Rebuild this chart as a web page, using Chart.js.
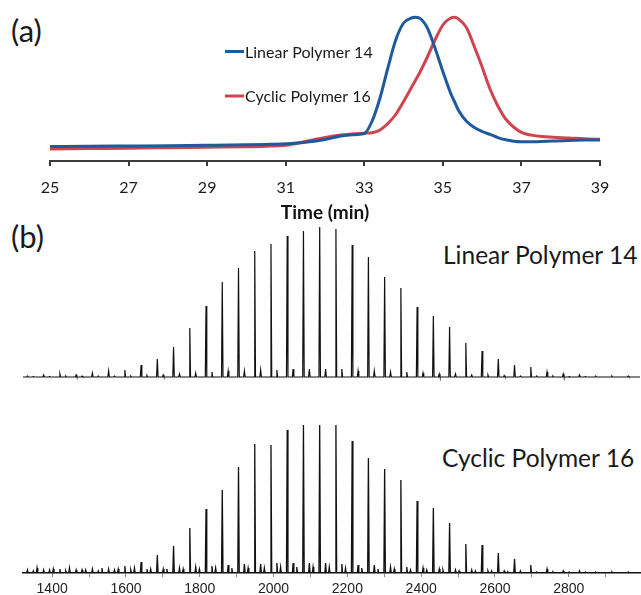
<!DOCTYPE html>
<html>
<head>
<meta charset="utf-8">
<script src="https://cdn.jsdelivr.net/npm/chart.js@4.4.1/dist/chart.umd.min.js"></script>
<style>
  body { margin: 0; background: #fff; width: 641px; height: 595px; overflow: hidden; position: relative; font-family: Lato, sans-serif; }
  canvas { position: absolute; left: 0; }
  .lbl { position: absolute; color: #1a1a1a; line-height: 1; white-space: nowrap; }
</style>
</head>
<body>
<div class="lbl" style="left:11px; top:15px; font-size:31px;">(a)</div>
<div class="lbl" style="left:11px; top:221px; font-size:31px;">(b)</div>
<div class="lbl" style="left:443px; top:243px; font-size:24.5px;">Linear Polymer 14</div>
<div class="lbl" style="left:442px; top:446px; font-size:24.5px;">Cyclic Polymer 16</div>

<canvas id="gpcChart" width="641" height="230" style="top:0"></canvas>
<canvas id="linearMs" width="641" height="166" style="top:215px"></canvas>
<canvas id="cyclicMs" width="641" height="200" style="top:395px"></canvas>

<script>
// (a) GPC traces
var gpcTime = [25, 26, 27, 28, 29, 30, 30.5, 31, 31.5, 32, 32.4, 32.7, 33, 33.2, 33.4, 33.6, 33.8, 34, 34.2, 34.3,
  34.4, 34.6, 34.8, 35, 35.2, 35.3, 35.4, 35.6, 35.8, 36, 36.2, 36.4, 36.6, 36.8, 37, 37.4, 37.8, 38.2, 38.6, 39];
var linearGpc = [14.5, 14.7, 15, 15.3, 15.7, 16.2, 16.6, 17.3, 18.8, 21.5, 25, 26.3, 27.5, 40, 63, 93, 121, 138, 143, 143.7,
  143, 133.5, 113, 89.5, 67.5, 59, 50.5, 39.8, 33.5, 29.5, 26.6, 23.4, 21.2, 19.8, 19.3, 19.3, 20, 20.6, 20.9, 21];
var cyclicGpc = [12, 12.4, 12.8, 13.3, 13.8, 14.3, 14.8, 15.8, 19.5, 23.5, 26, 27, 27.8, 28.3, 31, 37.5, 46.5, 59.5, 73.5, 80.5,
  87.5, 103.5, 121, 136, 143, 143.7, 142, 133.5, 114.5, 94, 72, 55, 42, 34, 28.7, 25, 23.7, 23, 22.2, 21.7];
var timeTicks = [25, 27, 29, 31, 33, 35, 37, 39];

// (b) MALDI peaks (m/z) and peak heights
var peakMz = [1333, 1377, 1421, 1465, 1509, 1553, 1597, 1641, 1685, 1729, 1773, 1817, 1861, 1905, 1949, 1993, 2037, 2081, 2125,
  2169, 2213, 2257, 2301, 2345, 2389, 2433, 2477, 2521, 2565, 2609, 2653, 2697, 2741, 2785, 2829, 2873, 2917, 2961];
var linearPeaks = [1, 2, 3, 2, 4, 6, 7, 12, 18, 30, 49, 71, 95, 109, 126, 133, 141, 146, 150,
  148, 132, 120, 100, 89, 70, 61, 50, 34, 26, 18, 12, 10, 5, 3, 2, 1, 1, 1];
var cyclicPeaks = [3, 3, 4, 3, 4, 4, 7, 11, 18, 27, 45, 64, 83, 106, 129, 128, 143, 148, 148,
  148, 132, 115, 104, 93, 72, 65, 50, 29, 28, 20, 14, 8, 4, 2, 2, 1, 1, 1];
// small side peaks next to each main peak
var sideMz = [1349, 1393, 1437, 1481, 1525, 1569, 1613, 1657, 1701, 1745, 1789, 1833, 1877, 1921, 1965, 2009, 2053, 2097, 2141,
  2185, 2229, 2273, 2317, 2361, 2405, 2449, 2493, 2537, 2581, 2625, 2669, 2713, 2757, 2801, 2845];
var linearSide = [0.5, 0.5, 1, 1, 1, 1, 1, 1.5, 2, 3, 4, 5, 6, 6, 7, 7, 8, 8, 8,
  8, 6, 6, 5, 5, 4, 3, 3, 2, 2, 1.5, 1, 1, 1, 0.5, 0.5];
var cyclicSide = [2, 3, 2, 3, 2, 3, 3, 4, 4, 5, 6, 7, 8, 9, 9, 10, 10, 10, 10,
  9, 8, 8, 6, 6, 5, 4, 3, 3, 2, 2, 2, 1, 1, 1, 1];
var minorMz = [1359, 1403, 1447, 1491, 1535, 1579, 1623, 1667, 1711, 1755, 1799, 1843, 1887, 1931, 1975, 2019, 2063, 2107, 2151,
  2195, 2239, 2283, 2327, 2371, 2415, 2459, 2503, 2547, 2591, 2635];
var cyclicMinor = [5, 4, 5, 3, 5, 4, 5, 4, 4, 4, 4, 5, 5, 5, 5, 6, 6, 6, 6,
  5, 5, 4, 4, 3, 3, 3, 2, 2, 2, 1];
var mzTicks = [1400, 1600, 1800, 2000, 2200, 2400, 2600, 2800];

var blue = '#1f5a9c';
var red = '#d0444f';

function pts(xs, ys) {
  return xs.map(function (x, i) { return {x: x, y: ys[i]}; });
}

// stick spectrum: each peak rises from and returns to the baseline
function sticks(groups) {
  var out = [{x: 1321, y: 0}, {x: 2993, y: 0}];
  groups.forEach(function (g) {
    g[0].forEach(function (m, i) {
      out.push({x: m - 2, y: 0}, {x: m, y: g[1][i]}, {x: m + 2, y: 0});
    });
  });
  out.sort(function (a, b) { return a.x - b.x; });
  return out;
}

var gpcLegend = {
  id: 'gpcLegend',
  afterDraw: function (chart) {
    var ctx = chart.ctx;
    var ys = [51.5, 96];
    ctx.save();
    ctx.font = '16px Lato';
    ctx.textBaseline = 'middle';
    chart.data.datasets.forEach(function (ds, i) {
      ctx.strokeStyle = ds.borderColor;
      ctx.lineWidth = 3;
      ctx.beginPath();
      ctx.moveTo(225, ys[i]);
      ctx.lineTo(244, ys[i]);
      ctx.stroke();
      ctx.fillStyle = '#1a1a1a';
      ctx.fillText(ds.label, 245, ys[i] + 1);
    });
    ctx.restore();
  }
};

new Chart(document.getElementById('gpcChart'), {
  type: 'line',
  data: {
    datasets: [
      {label: 'Linear Polymer 14', data: pts(gpcTime, linearGpc), borderColor: blue, borderWidth: 3,
        pointRadius: 0, cubicInterpolationMode: 'monotone'},
      {label: 'Cyclic Polymer 16', data: pts(gpcTime, cyclicGpc), borderColor: red, borderWidth: 3,
        pointRadius: 0, cubicInterpolationMode: 'monotone'}
    ]
  },
  options: {
    responsive: false,
    animation: false,
    layout: {padding: {left: 50, right: 41, top: 6, bottom: 0}},
    plugins: {legend: {display: false}, tooltip: {enabled: false}},
    scales: {
      x: {
        type: 'linear', min: 25, max: 39,
        afterFit: function (s) { s.height = 69; },
        afterBuildTicks: function (s) { s.ticks = timeTicks.map(function (v) { return {value: v}; }); },
        ticks: {autoSkip: false, maxRotation: 0, padding: 12, color: '#1a1a1a', font: {family: 'Lato', size: 16},
          callback: function (v) { return String(v); }},
        grid: {drawOnChartArea: false, drawTicks: true, tickLength: 5, color: '#3a3a3a', lineWidth: 2},
        border: {color: '#3a3a3a', width: 2},
        title: {display: true, text: 'Time (min)', color: '#111', font: {family: 'Lato', size: 19, weight: 'bold'},
          padding: {top: 0, bottom: 6}}
      },
      y: {display: false, min: 0, max: 155}
    }
  },
  plugins: [gpcLegend]
});

new Chart(document.getElementById('linearMs'), {
  type: 'line',
  data: {
    datasets: [{label: 'Linear Polymer 14', data: sticks([[peakMz, linearPeaks], [sideMz, linearSide]]),
      borderColor: '#111', borderWidth: 1.2, pointRadius: 0, tension: 0}]
  },
  options: {
    responsive: false,
    animation: false,
    layout: {padding: {left: 23, right: 1, top: 0, bottom: 0}},
    plugins: {legend: {display: false}, tooltip: {enabled: false}},
    scales: {
      x: {type: 'linear', display: false, min: 1321, max: 2993},
      y: {display: false, min: -4, max: 162}
    }
  }
});

new Chart(document.getElementById('cyclicMs'), {
  type: 'line',
  data: {
    datasets: [{label: 'Cyclic Polymer 16',
      data: sticks([[peakMz, cyclicPeaks], [sideMz, cyclicSide], [minorMz, cyclicMinor]]),
      borderColor: '#111', borderWidth: 1.3, pointRadius: 0, tension: 0}]
  },
  options: {
    responsive: false,
    animation: false,
    layout: {padding: {left: 23, right: 1, top: 0, bottom: 0}},
    plugins: {legend: {display: false}, tooltip: {enabled: false}},
    scales: {
      x: {
        type: 'linear', min: 1321, max: 2993,
        afterFit: function (s) { s.height = 22; },
        afterBuildTicks: function (s) {
          var t = [];
          for (var v = 1400; v <= 2900; v += 100) t.push({value: v});
          s.ticks = t;
        },
        ticks: {autoSkip: false, maxRotation: 0, padding: 4, color: '#222', font: {family: 'Liberation Sans', size: 14},
          callback: function (v) { return mzTicks.indexOf(v) >= 0 ? String(v) : ''; }},
        grid: {drawOnChartArea: false, drawTicks: true, tickLength: 4, color: '#888', lineWidth: 1},
        border: {color: '#111', width: 1.5}
      },
      y: {display: false, min: 0, max: 178}
    }
  }
});
</script>
</body>
</html>
